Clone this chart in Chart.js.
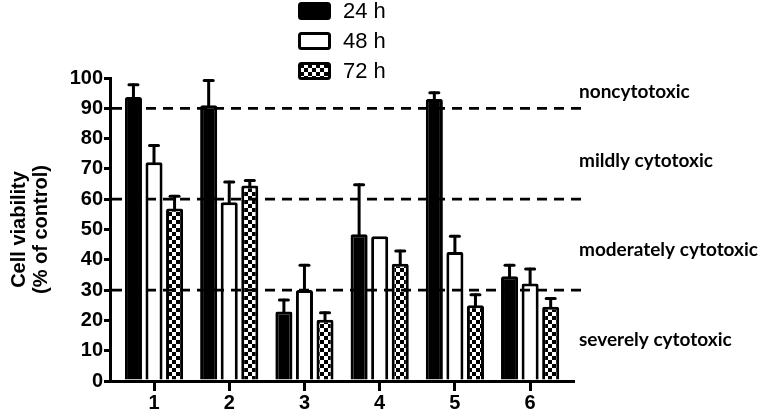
<!DOCTYPE html>
<html><head><meta charset="utf-8">
<script src="https://cdn.jsdelivr.net/npm/chart.js@4/dist/chart.umd.min.js"></script>
<style>html,body{margin:0;padding:0;background:#fff}#wrap{width:764px;height:416px}</style>
</head><body><div id="wrap"><canvas id="c" width="764" height="416"></canvas></div>
<script>
// ---- data ----
const categories = ['1', '2', '3', '4', '5', '6'];
const seriesLabels = ['24 h', '48 h', '72 h'];
const mean24 = [93.7, 91.0, 22.9, 48.4, 93.1, 34.6];
const sd24   = [4.1, 8.2, 3.8, 16.4, 2.0, 3.6];
const mean48 = [72.2, 59.0, 30.0, 47.8, 42.6, 32.2];
const sd48   = [5.5, 6.7, 8.2, 0, 5.2, 4.8];
const mean72 = [56.9, 64.5, 20.2, 38.7, 25.0, 24.5];
const sd72   = [4.1, 1.7, 2.3, 4.2, 3.5, 2.7];
const yTicks = [0, 10, 20, 30, 40, 50, 60, 70, 80, 90, 100];
const thresholds = [90, 60, 30];
const zoneLabels = ['noncytotoxic', 'mildly cytotoxic', 'moderately cytotoxic', 'severely cytotoxic'];
const zoneLabelValues = [95.5, 72.7, 43.4, 13.7];

// ---- pattern ----
function checker() {
  const t = document.createElement('canvas');
  t.width = 8; t.height = 8;
  const g = t.getContext('2d');
  g.fillStyle = '#000'; g.fillRect(0, 0, 8, 8);
  g.fillStyle = '#fff'; g.fillRect(0, 0, 4, 4); g.fillRect(4, 4, 4, 4);
  return document.getElementById('c').getContext('2d').createPattern(t, 'repeat');
}
const pat = checker();

const means = [mean24, mean48, mean72];
const sds = [sd24, sd48, sd72];
const fills = ['#000', '#fff', pat];

const datasets = seriesLabels.map((lab, k) => ({
  label: lab,
  data: means[k].map((v, i) => ({ x: i + 1, y: v })),
  backgroundColor: fills[k],
  borderColor: '#000',
  borderWidth: 3,
  borderRadius: 2,
  barPercentage: 0.83,
  categoryPercentage: 0.82,
  sd: sds[k]
}));

const FONT = 'Liberation Sans';

const decor = {
  id: 'decor',
  afterDatasetsDraw(chart) {
    const ctx = chart.ctx, ys = chart.scales.y, area = chart.chartArea;
    // dashed threshold lines
    ctx.save();
    ctx.strokeStyle = '#000'; ctx.lineWidth = 2.7; ctx.setLineDash([10, 7]);
    thresholds.forEach(t => {
      const y = ys.getPixelForValue(t);
      ctx.beginPath(); ctx.moveTo(area.left + 2, y); ctx.lineTo(586, y); ctx.stroke();
    });
    ctx.restore();
    // error bars (upper only)
    ctx.save();
    ctx.strokeStyle = '#000'; ctx.lineWidth = 3; ctx.lineCap = 'round';
    chart.data.datasets.forEach((ds, k) => {
      const meta = chart.getDatasetMeta(k);
      meta.data.forEach((bar, i) => {
        const sd = ds.sd[i];
        if (!sd) return;
        const yTop = ys.getPixelForValue(ds.data[i].y + sd);
        ctx.beginPath(); ctx.moveTo(bar.x, bar.y + 1); ctx.lineTo(bar.x, yTop); ctx.stroke();
        ctx.beginPath(); ctx.moveTo(bar.x - 4.5, yTop); ctx.lineTo(bar.x + 4.5, yTop); ctx.stroke();
      });
    });
    ctx.restore();
  },
  afterDraw(chart) {
    const ctx = chart.ctx, ys = chart.scales.y;
    // legend
    ctx.save();
    chart.data.datasets.forEach((ds, k) => {
      const y0 = 3 + k * 30;
      ctx.fillStyle = ds.backgroundColor;
      ctx.strokeStyle = '#000'; ctx.lineWidth = 3;
      ctx.beginPath(); ctx.roundRect(299.5, y0 + 0.5, 30, 15, 2); ctx.fill(); ctx.stroke();
      ctx.fillStyle = '#000';
      ctx.font = '22px "' + FONT + '"';
      ctx.textBaseline = 'middle'; ctx.textAlign = 'left';
      ctx.fillText(ds.label, 343, y0 + 9);
    });
    // zone labels
    ctx.font = 'bold 19px Lato';
    zoneLabels.forEach((t, i) => {
      ctx.fillText(t, 579, ys.getPixelForValue(zoneLabelValues[i]));
    });
    ctx.restore();
  }
};

new Chart(document.getElementById('c'), {
  type: 'bar',
  data: { datasets },
  plugins: [decor],
  options: {
    responsive: false, animation: false, devicePixelRatio: 1,
    layout: { padding: { top: 78, right: 191, left: 0, bottom: 0 } },
    plugins: { legend: { display: false }, tooltip: { enabled: false } },
    scales: {
      x: {
        type: 'linear', min: 0.415, max: 6.57, offset: false,
        afterBuildTicks: s => { s.ticks = categories.map((c, i) => ({ value: i + 1 })); },
        afterFit: s => { s.height = 35; },
        ticks: { callback: v => categories[v - 1], font: { family: FONT, size: 20, weight: 'bold' }, color: '#000', padding: 0, maxRotation: 0, autoSkip: false },
        grid: { offset: false, drawOnChartArea: false, drawTicks: true, tickLength: 10, lineWidth: 3, color: '#000' },
        border: { display: true, width: 3, color: '#000' }
      },
      y: {
        min: 0, max: 100,
        afterBuildTicks: s => { s.ticks = yTicks.map(v => ({ value: v })); },
        afterFit: s => { s.width = 110; },
        ticks: { font: { family: FONT, size: 20, weight: 'bold' }, color: '#000', padding: 1 },
        grid: { drawOnChartArea: false, drawTicks: true, tickLength: 6, lineWidth: 3, color: '#000' },
        border: { display: true, width: 3, color: '#000' },
        title: { display: true, text: ['Cell viability', '(% of control)'], color: '#000',
                 font: { family: FONT, size: 20, weight: 'bold', lineHeight: 1.1 }, padding: { top: 8, bottom: 0 } }
      }
    }
  }
});
</script></body></html>
